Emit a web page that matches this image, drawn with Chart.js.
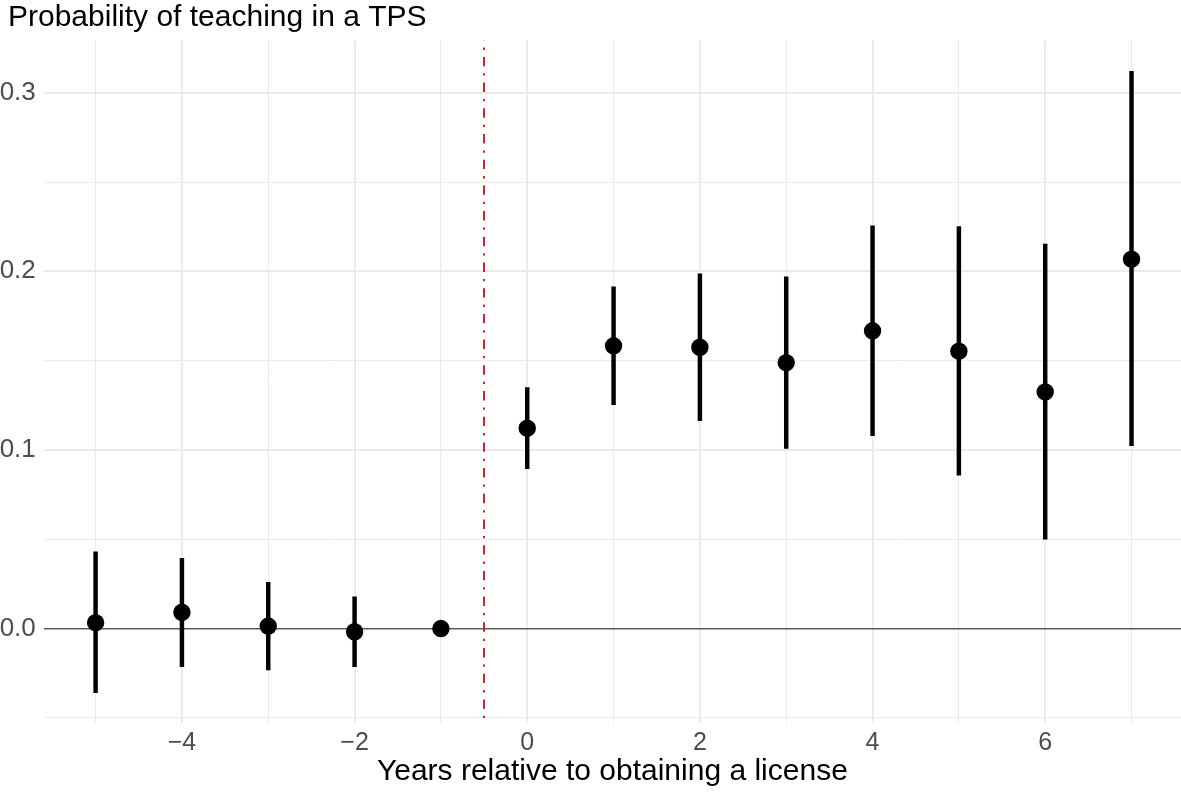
<!DOCTYPE html>
<html>
<head>
<meta charset="utf-8">
<title>Probability of teaching in a TPS</title>
<script src="https://cdn.jsdelivr.net/npm/chart.js@4.4.1/dist/chart.umd.min.js"></script>
<style>
  html, body { margin: 0; padding: 0; background: #ffffff; }
  #wrap { width: 1181px; height: 792px; overflow: hidden; }
</style>
</head>
<body>
<div id="wrap"><canvas id="eventStudy" width="1181" height="792"></canvas></div>
<script>
// years relative to obtaining a license, point estimate and 95% interval
const years    = [-5, -4, -3, -2, -1, 0, 1, 2, 3, 4, 5, 6, 7];
const estimate = [0.0033, 0.0091, 0.0014, -0.0018, 0, 0.1122, 0.1583, 0.1575, 0.1489, 0.1667, 0.1553, 0.1325, 0.2068];
const ciLow    = [-0.0359, -0.0214, -0.0231, -0.0214, null, 0.0895, 0.1254, 0.1164, 0.1009, 0.1080, 0.0858, 0.0501, 0.1024];
const ciHigh   = [0.0430, 0.0393, 0.0259, 0.0178, null, 0.1349, 0.1913, 0.1986, 0.1969, 0.2255, 0.2251, 0.2152, 0.3120];

const licenseCutoff = -0.5;
const xLimits = [-5.6, 7.573];
const yLimits = [-0.053, 0.3294];

const FONT = "'Liberation Sans', Arial, Helvetica, sans-serif";
Chart.defaults.font.family = FONT;

const pointData = years.map((y, i) => ({ x: y, y: estimate[i] }));
const rangeData = years
    .map((y, i) => ({ x: y, y: [ciLow[i], ciHigh[i]] }))
    .filter(d => d.y[0] !== null);

// dot-dash vertical line at the license year
const cutoffLine = {
    id: 'cutoffLine',
    beforeDatasetsDraw(chart) {
        const { ctx, chartArea, scales } = chart;
        const x = scales.x.getPixelForValue(licenseCutoff);
        ctx.save();
        ctx.strokeStyle = '#B8252B';
        ctx.lineWidth = 2;
        ctx.setLineDash([9.4, 7, 2.3, 7]);
        ctx.lineDashOffset = 9;
        ctx.beginPath();
        ctx.moveTo(x, chartArea.top);
        ctx.lineTo(x, chartArea.bottom);
        ctx.stroke();
        ctx.restore();
    }
};

// push the title in a little from the left edge (y labels run off the canvas)
const titleInset = {
    id: 'titleInset',
    afterLayout(chart) {
        if (chart.titleBlock) {
            chart.titleBlock.left = 8;
        }
    }
};

new Chart(document.getElementById('eventStudy'), {
    type: 'bar',
    data: {
        datasets: [
            {
                type: 'scatter',
                data: pointData,
                pointRadius: 8.7,
                pointHoverRadius: 8.7,
                backgroundColor: '#000000',
                borderWidth: 0,
                order: 0
            },
            {
                type: 'bar',
                data: rangeData,
                barThickness: 3.8,
                backgroundColor: '#000000',
                borderWidth: 0,
                grouped: false,
                order: 1
            }
        ]
    },
    options: {
        responsive: false,
        animation: false,
        devicePixelRatio: 1,
        layout: { autoPadding: false, padding: 0 },
        plugins: {
            legend: { display: false },
            tooltip: { enabled: false },
            title: {
                display: true,
                text: 'Probability of teaching in a TPS',
                align: 'start',
                color: '#000000',
                font: { size: 30, weight: 'normal' },
                padding: { top: 0, bottom: 4.2 }
            }
        },
        scales: {
            x: {
                type: 'linear',
                min: xLimits[0],
                max: xLimits[1],
                offset: false,
                afterFit: s => {
                    s.height = 68.8;
                    s.paddingLeft = 0;
                    s.paddingRight = 0;
                },
                border: { display: false },
                grid: {
                    offset: false,
                    drawTicks: false,
                    color: '#EBEBEB',
                    lineWidth: c => (c.tick && c.tick.value % 2 === 0) ? 2 : 1
                },
                ticks: {
                    stepSize: 1,
                    maxTicksLimit: 100,
                    includeBounds: false,
                    maxRotation: 0,
                    padding: 5,
                    color: '#4D4D4D',
                    font: { size: 25 },
                    callback: v => v % 2 === 0 ? (v < 0 ? '\u2212' + (-v) : String(v)) : ''
                },
                title: {
                    display: true,
                    text: 'Years relative to obtaining a license',
                    color: '#000000',
                    font: { size: 30 },
                    padding: { top: 0, bottom: 2.4 }
                }
            },
            y: {
                type: 'linear',
                min: yLimits[0],
                max: yLimits[1],
                afterFit: s => {
                    s.width = 43.8;
                    s.paddingTop = 0;
                    s.paddingBottom = 0;
                },
                border: { display: false },
                grid: {
                    drawTicks: false,
                    color: c => (c.tick && Math.abs(c.tick.value) < 1e-9) ? '#5A5A5A' : '#EBEBEB',
                    lineWidth: c => {
                        if (!c.tick) return 1;
                        const r = Math.round(c.tick.value * 100);
                        if (r === 0) return 1.6;
                        return r % 10 === 0 ? 2 : 1;
                    }
                },
                ticks: {
                    stepSize: 0.05,
                    maxTicksLimit: 100,
                    includeBounds: false,
                    padding: 8,
                    color: '#4D4D4D',
                    font: { size: 26 },
                    callback: v => {
                        const r = Math.round(v * 100);
                        return r % 10 === 0 ? (r / 100).toFixed(1) : '';
                    }
                }
            }
        }
    },
    plugins: [cutoffLine, titleInset]
});
</script>
</body>
</html>
